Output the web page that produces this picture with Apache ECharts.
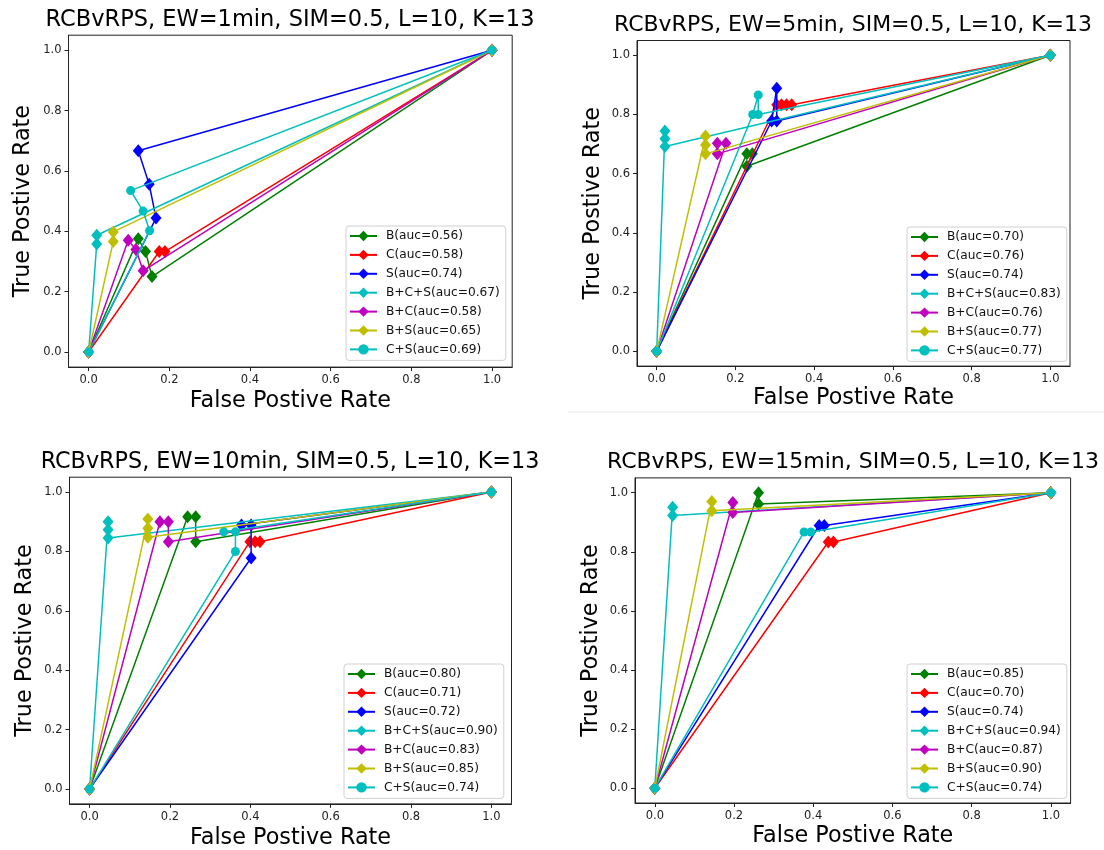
<!DOCTYPE html>
<html>
<head>
<meta charset="utf-8">
<script src="https://cdn.jsdelivr.net/npm/echarts@6/dist/echarts.min.js"></script>
<style>
  html, body { margin: 0; padding: 0; background: #fff; }
  #chart { width: 1104px; height: 850px; }
</style>
</head>
<body>
<div id="chart"></div>
<script>
// ROC points [false positive rate, true positive rate] per feature set and event window
const seriesKeys = ['B', 'C', 'S', 'B+C+S', 'B+C', 'B+S', 'C+S'];
const tickValues = [0, 0.2, 0.4, 0.6, 0.8, 1.0];
const panelTitles = [
  'RCBvRPS, EW=1min, SIM=0.5, L=10, K=13',
  'RCBvRPS, EW=5min, SIM=0.5, L=10, K=13',
  'RCBvRPS, EW=10min, SIM=0.5, L=10, K=13',
  'RCBvRPS, EW=15min, SIM=0.5, L=10, K=13'
];

// EW = 1min
const ew1Auc = [0.56, 0.58, 0.74, 0.67, 0.58, 0.65, 0.69];
const ew1B   = [[0, 0], [0.123, 0.375], [0.141, 0.333], [0.157, 0.25], [1, 1]];
const ew1C   = [[0, 0], [0.175, 0.333], [0.189, 0.333], [1, 1]];
const ew1S   = [[0, 0], [0.167, 0.444], [0.150, 0.556], [0.123, 0.667], [1, 1]];
const ew1BCS = [[0, 0], [0.020, 0.358], [0.020, 0.387], [1, 1]];
const ew1BC  = [[0, 0], [0.098, 0.370], [0.117, 0.340], [0.135, 0.269], [1, 1]];
const ew1BS  = [[0, 0], [0.061, 0.366], [0.061, 0.398], [1, 1]];
const ew1CS  = [[0, 0], [0.151, 0.402], [0.135, 0.467], [0.104, 0.535], [1, 1]];

// EW = 5min
const ew5Auc = [0.70, 0.76, 0.74, 0.83, 0.76, 0.77, 0.77];
const ew5B   = [[0, 0], [0.229, 0.667], [0.243, 0.667], [0.229, 0.625], [1, 1]];
const ew5C   = [[0, 0], [0.305, 0.833], [0.317, 0.833], [0.330, 0.833], [0.343, 0.833], [1, 1]];
const ew5S   = [[0, 0], [0.292, 0.778], [0.305, 0.889], [0.305, 0.778], [1, 1]];
const ew5BCS = [[0, 0], [0.021, 0.744], [0.021, 0.718], [0.021, 0.692], [1, 1]];
const ew5BC  = [[0, 0], [0.176, 0.703], [0.154, 0.703], [0.154, 0.667], [1, 1]];
const ew5BS  = [[0, 0], [0.124, 0.727], [0.124, 0.697], [0.124, 0.667], [1, 1]];
const ew5CS  = [[0, 0], [0.244, 0.800], [0.258, 0.866], [0.258, 0.800], [1, 1]];

// EW = 10min
const ew10Auc = [0.80, 0.71, 0.72, 0.90, 0.83, 0.85, 0.74];
const ew10B   = [[0, 0], [0.244, 0.917], [0.264, 0.917], [0.264, 0.833], [1, 1]];
const ew10C   = [[0, 0], [0.399, 0.833], [0.412, 0.833], [0.424, 0.833], [1, 1]];
const ew10S   = [[0, 0], [0.402, 0.778], [0.402, 0.889], [0.378, 0.889], [1, 1]];
const ew10BCS = [[0, 0], [0.046, 0.900], [0.046, 0.873], [0.046, 0.845], [1, 1]];
const ew10BC  = [[0, 0], [0.175, 0.900], [0.196, 0.900], [0.196, 0.833], [1, 1]];
const ew10BS  = [[0, 0], [0.145, 0.909], [0.145, 0.878], [0.145, 0.848], [1, 1]];
const ew10CS  = [[0, 0], [0.363, 0.800], [0.363, 0.866], [0.334, 0.866], [1, 1]];

// EW = 15min
const ew15Auc = [0.85, 0.70, 0.74, 0.94, 0.87, 0.90, 0.74];
const ew15B   = [[0, 0], [0.262, 1.000], [0.262, 0.962], [1, 1]];
const ew15C   = [[0, 0], [0.438, 0.833], [0.451, 0.833], [1, 1]];
const ew15S   = [[0, 0], [0.415, 0.889], [0.428, 0.889], [1, 1]];
const ew15BCS = [[0, 0], [0.045, 0.951], [0.045, 0.923], [1, 1]];
const ew15BC  = [[0, 0], [0.197, 0.967], [0.197, 0.933], [1, 1]];
const ew15BS  = [[0, 0], [0.144, 0.970], [0.144, 0.939], [1, 1]];
const ew15CS  = [[0, 0], [0.377, 0.867], [0.394, 0.867], [1, 1]];

const panelData = [
  { auc: ew1Auc,  curves: [ew1B,  ew1C,  ew1S,  ew1BCS,  ew1BC,  ew1BS,  ew1CS] },
  { auc: ew5Auc,  curves: [ew5B,  ew5C,  ew5S,  ew5BCS,  ew5BC,  ew5BS,  ew5CS] },
  { auc: ew10Auc, curves: [ew10B, ew10C, ew10S, ew10BCS, ew10BC, ew10BS, ew10CS] },
  { auc: ew15Auc, curves: [ew15B, ew15C, ew15S, ew15BCS, ew15BC, ew15BS, ew15CS] }
];

// Styling
const FONT = 'DejaVu Sans';
const colors = ['#008000', '#ff0000', '#0000ff', '#00bfbf', '#bf00bf', '#bfbf00', '#00bfbf'];
const symbols = ['diamond', 'diamond', 'diamond', 'diamond', 'diamond', 'diamond', 'circle'];

// Panel placement (pixels)
const layout = [
  { grid: { left: 68.5, top: 35.2, width: 443.7, height: 331.9 }, title: [290, 20, 22.5], legend: [346, 226], xName: 23, yName: 34 },
  { grid: { left: 637,  top: 40.5, width: 433,   height: 325.6 }, title: [853, 25, 22], legend: [907, 227], xName: 21, yName: 33 },
  { grid: { left: 69.5, top: 477.2, width: 442,  height: 326.7 }, title: [290, 462, 22.3], legend: [344, 664], xName: 23, yName: 33 },
  { grid: { left: 635,  top: 477.9, width: 435.6, height: 325.1 }, title: [853, 462, 22], legend: [907, 664], xName: 22, yName: 33 }
];

const grids = [], xAxes = [], yAxes = [], series = [], legends = [], graphics = [];

function axisCommon(i, name, gap) {
  return {
    type: 'value', gridIndex: i, min: -0.05, max: 1.05,
    splitLine: { show: false },
    axisLine: { show: true, onZero: false, lineStyle: { color: '#222', width: 1 } },
    axisTick: { show: true, customValues: tickValues, length: 4, lineStyle: { color: '#222', width: 1 } },
    axisLabel: { customValues: tickValues, formatter: v => v.toFixed(1), fontFamily: FONT, fontSize: 11.5, color: '#222', margin: 7 },
    name: name, nameLocation: 'middle', nameGap: gap,
    nameTextStyle: { fontFamily: FONT, fontSize: 22.3, color: '#000' }
  };
}

panelData.forEach((p, i) => {
  const L = layout[i];
  grids.push(Object.assign({ show: true, borderColor: '#222', borderWidth: 1, backgroundColor: 'transparent', containLabel: false }, L.grid));
  xAxes.push(axisCommon(i, 'False Postive Rate', L.xName));
  yAxes.push(axisCommon(i, 'True Postive Rate', L.yName));

  const names = [];
  p.curves.forEach((pts, k) => {
    const nm = 'p' + i + '|' + seriesKeys[k] + '(auc=' + p.auc[k].toFixed(2) + ')';
    names.push(nm);
    series.push({
      type: 'line', name: nm, xAxisIndex: i, yAxisIndex: i, data: pts,
      symbol: symbols[k], symbolSize: symbols[k] === 'circle' ? 9 : [11, 13],
      showAllSymbol: true, clip: false,
      lineStyle: { color: colors[k], width: 1.5 },
      itemStyle: { color: colors[k] },
      z: 2 + k, animation: false
    });
  });

  legends.push({
    data: names, orient: 'vertical', left: L.legend[0], top: L.legend[1],
    itemWidth: 27, itemHeight: 13, itemGap: 6.9,
    formatter: n => n.split('|')[1],
    textStyle: { fontFamily: FONT, fontSize: 12.2, color: '#111', padding: [0, 0, 0, 4] },
    backgroundColor: 'rgba(255,255,255,0.85)', borderColor: '#d0d0d0', borderWidth: 1, borderRadius: 3,
    padding: [4, 6, 5, 3], selectedMode: false
  });

  graphics.push({
    type: 'text', x: L.title[0], y: L.title[1],
    style: { text: panelTitles[i], font: L.title[2] + 'px "' + FONT + '"', fill: '#000', textAlign: 'center', textVerticalAlign: 'middle' }
  });
});

// thin separator under the upper-right panel
graphics.push({ type: 'line', shape: { x1: 568, y1: 412, x2: 1104, y2: 412 }, style: { stroke: '#e6e6e6', lineWidth: 1 } });

const chart = echarts.init(document.getElementById('chart'), null, { renderer: 'canvas' });
chart.setOption({
  backgroundColor: '#fff',
  animation: false,
  grid: grids, xAxis: xAxes, yAxis: yAxes,
  series: series, legend: legends, graphic: graphics
});
</script>
</body>
</html>
